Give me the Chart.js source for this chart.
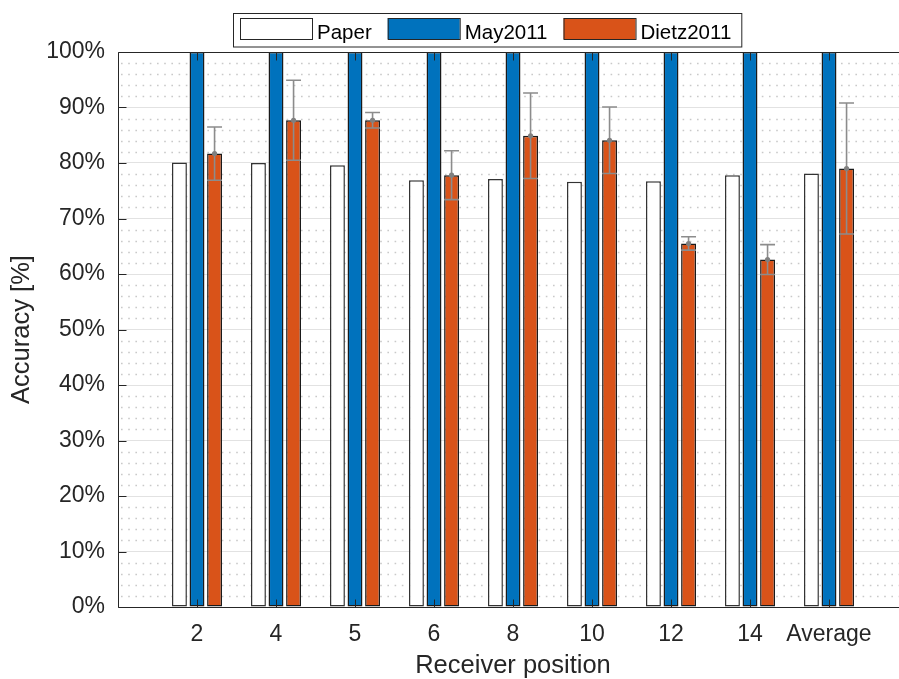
<!DOCTYPE html>
<html>
<head>
<meta charset="utf-8">
<title>Accuracy by receiver position</title>
<script src="https://cdn.jsdelivr.net/npm/chart.js@4/dist/chart.umd.min.js"></script>
<style>
  html, body { margin: 0; padding: 0; background: #fff; overflow: hidden; }
  #wrap { width: 920px; height: 679px; }
</style>
</head>
<body>
<div id="wrap"><canvas id="chart"></canvas></div>
<script>
// Receiver positions (last group is the mean over all positions)
const categories = ['2', '4', '5', '6', '8', '10', '12', '14', 'Average'];

// Accuracy in percent per model
const paperAcc    = [80.1, 80.0, 79.6, 76.9, 77.1, 76.6, 76.7, 77.8, 78.1];
const may2011Acc  = [100, 100, 100, 100, 100, 100, 100, 100, 100];
const dietz2011Acc = [81.7, 87.7, 87.7, 77.8, 84.9, 84.1, 65.5, 62.6, 79.0];
// Standard deviation of the Dietz2011 accuracy
const dietz2011Err = [4.8, 7.2, 1.4, 4.4, 7.7, 6.0, 1.2, 2.7, 11.8];

const seriesNames = ['Paper', 'May2011', 'Dietz2011'];
const yTickValues = [0, 10, 20, 30, 40, 50, 60, 70, 80, 90, 100];
const yMinorStep = 2;

const AXIS_COLOR = '#262626';
const FONT = '"Liberation Sans", Arial, Helvetica, sans-serif';
const TICK_LEN = 8;

const toPoints = arr => arr.map((v, i) => ({ x: i + 1, y: v }));

// Dotted minor grid behind the bars
const minorGrid = {
  id: 'minorGrid',
  beforeDatasetsDraw(chart) {
    const { ctx, chartArea: a, scales: { y } } = chart;
    ctx.save();
    ctx.strokeStyle = '#c9c9c9';
    ctx.lineWidth = 1.5;
    ctx.setLineDash([1.6, 5.6]);
    for (let v = y.min; v <= y.max; v += yMinorStep) {
      if (yTickValues.includes(v)) continue;
      const py = Math.round(y.getPixelForValue(v)) + 0.5;
      ctx.beginPath();
      ctx.lineDashOffset = -3;
      ctx.moveTo(a.left, py);
      ctx.lineTo(a.right, py);
      ctx.stroke();
    }
    ctx.restore();
  }
};

// Error bars with mean markers on the Dietz2011 bars
const errorBars = {
  id: 'errorBars',
  afterDatasetsDraw(chart) {
    const { ctx, scales: { y } } = chart;
    const meta = chart.getDatasetMeta(2);
    ctx.save();
    ctx.strokeStyle = '#8c8c8c';
    ctx.fillStyle = '#808080';
    ctx.lineWidth = 1.6;
    meta.data.forEach((bar, i) => {
      const v = dietz2011Acc[i], e = dietz2011Err[i];
      const x = bar.x;
      const half = bar.width / 2;
      const yt = y.getPixelForValue(v + e);
      const yb = y.getPixelForValue(v - e);
      const ym = y.getPixelForValue(v);
      ctx.beginPath();
      ctx.moveTo(x, yt); ctx.lineTo(x, yb);
      ctx.moveTo(x - half, yt); ctx.lineTo(x + half, yt);
      ctx.moveTo(x - half, yb); ctx.lineTo(x + half, yb);
      ctx.stroke();
      ctx.beginPath();
      ctx.arc(x, ym, 2.6, 0, Math.PI * 2);
      ctx.fill();
    });
    ctx.restore();
  }
};

// Axes box with inward tick marks
const axesBox = {
  id: 'axesBox',
  afterDatasetsDraw(chart) {
    const { ctx, chartArea: a, scales: { x, y } } = chart;
    ctx.save();
    ctx.strokeStyle = AXIS_COLOR;
    ctx.lineWidth = 1;
    ctx.beginPath();
    const L = a.left + 0.5, R = a.right + 0.5, T = Math.round(a.top) + 0.5, B = Math.round(a.bottom) + 0.5;
    ctx.moveTo(L, T); ctx.lineTo(R, T);
    ctx.lineTo(R, B); ctx.lineTo(L, B); ctx.closePath();
    yTickValues.forEach(v => {
      const py = Math.round(y.getPixelForValue(v)) + 0.5;
      ctx.moveTo(L, py); ctx.lineTo(L + TICK_LEN, py);
      ctx.moveTo(R, py); ctx.lineTo(R - TICK_LEN, py);
    });
    categories.forEach((c, i) => {
      const px = Math.round(x.getPixelForValue(i + 1)) + 0.5;
      ctx.moveTo(px, B); ctx.lineTo(px, B - TICK_LEN);
      ctx.moveTo(px, T); ctx.lineTo(px, T + TICK_LEN);
    });
    ctx.stroke();
    ctx.restore();
  }
};

// Boxed horizontal legend above the plot
const boxedLegend = {
  id: 'boxedLegend',
  afterDraw(chart) {
    const { ctx } = chart;
    const ds = chart.data.datasets;
    const left = 233, top = 13, height = 33.5;
    const swW = 72, swH = 21, swY = 18;
    ctx.save();
    ctx.font = '20.5px ' + FONT;
    let xx = left + 7;
    const items = [];
    ds.forEach(d => {
      const w = ctx.measureText(d.label).width;
      items.push({ d, sx: xx, tx: xx + swW + 5 });
      xx += swW + 5 + w + 16;
    });
    const right = xx - 16 + 10;
    ctx.fillStyle = '#fff';
    ctx.fillRect(left, top, right - left, height);
    ctx.strokeStyle = AXIS_COLOR;
    ctx.lineWidth = 1;
    ctx.strokeRect(left + 0.5, top + 0.5, right - left, height);
    items.forEach(it => {
      ctx.fillStyle = it.d.backgroundColor;
      ctx.fillRect(it.sx, swY, swW, swH);
      ctx.strokeStyle = '#262626';
      ctx.strokeRect(it.sx + 0.5, swY + 0.5, swW, swH);
      ctx.fillStyle = '#000';
      ctx.textBaseline = 'alphabetic';
      ctx.textAlign = 'left';
      ctx.fillText(it.d.label, it.tx, 38.5);
    });
    ctx.restore();
  }
};

const barCommon = {
  borderWidth: 1.5,
  borderSkipped: false,
  categoryPercentage: 0.667,
  barPercentage: 0.85
};

new Chart(document.getElementById('chart'), {
  type: 'bar',
  data: {
    datasets: [
      Object.assign({ label: seriesNames[0], data: toPoints(paperAcc),
        backgroundColor: '#ffffff', borderColor: '#333333' }, barCommon),
      Object.assign({ label: seriesNames[1], data: toPoints(may2011Acc),
        backgroundColor: '#0072BD', borderColor: '#1a1a1a' }, barCommon),
      Object.assign({ label: seriesNames[2], data: toPoints(dietz2011Acc),
        backgroundColor: '#D95319', borderColor: '#1a1a1a' }, barCommon)
    ]
  },
  options: {
    responsive: true,
    maintainAspectRatio: false,
    animation: false,
    layout: { padding: { top: 52, right: 12, left: 0, bottom: 0 } },
    plugins: {
      legend: { display: false },
      tooltip: { enabled: false }
    },
    scales: {
      x: {
        type: 'linear',
        min: 0,
        max: 10,
        offset: false,
        afterFit(scale) { scale.height = 72; },
        afterBuildTicks(scale) {
          scale.ticks = categories.map((c, i) => ({ value: i + 1 }));
        },
        ticks: {
          autoSkip: false,
          maxRotation: 0,
          padding: 14,
          color: AXIS_COLOR,
          font: { family: FONT, size: 23 },
          callback: v => categories[v - 1] ?? ''
        },
        grid: { display: false, drawTicks: false, offset: false },
        border: { display: false },
        title: {
          display: true,
          text: 'Receiver position',
          color: AXIS_COLOR,
          font: { family: FONT, size: 25.5, lineHeight: 1 },
          padding: { top: 0, bottom: 0 }
        }
      },
      y: {
        min: 0,
        max: 100,
        afterFit(scale) { scale.width = 118; },
        afterBuildTicks(scale) {
          scale.ticks = yTickValues.map(v => ({ value: v }));
        },
        ticks: {
          padding: 13,
          color: AXIS_COLOR,
          font: { family: FONT, size: 23 },
          callback: v => v + '%'
        },
        grid: { color: '#e2e2e2', lineWidth: 1, drawTicks: false },
        border: { display: false },
        title: {
          display: true,
          text: 'Accuracy [%]',
          color: AXIS_COLOR,
          font: { family: FONT, size: 25.5, lineHeight: 1 },
          padding: { top: 9, bottom: 0 }
        }
      }
    }
  },
  plugins: [minorGrid, errorBars, axesBox, boxedLegend]
});
</script>
</body>
</html>
